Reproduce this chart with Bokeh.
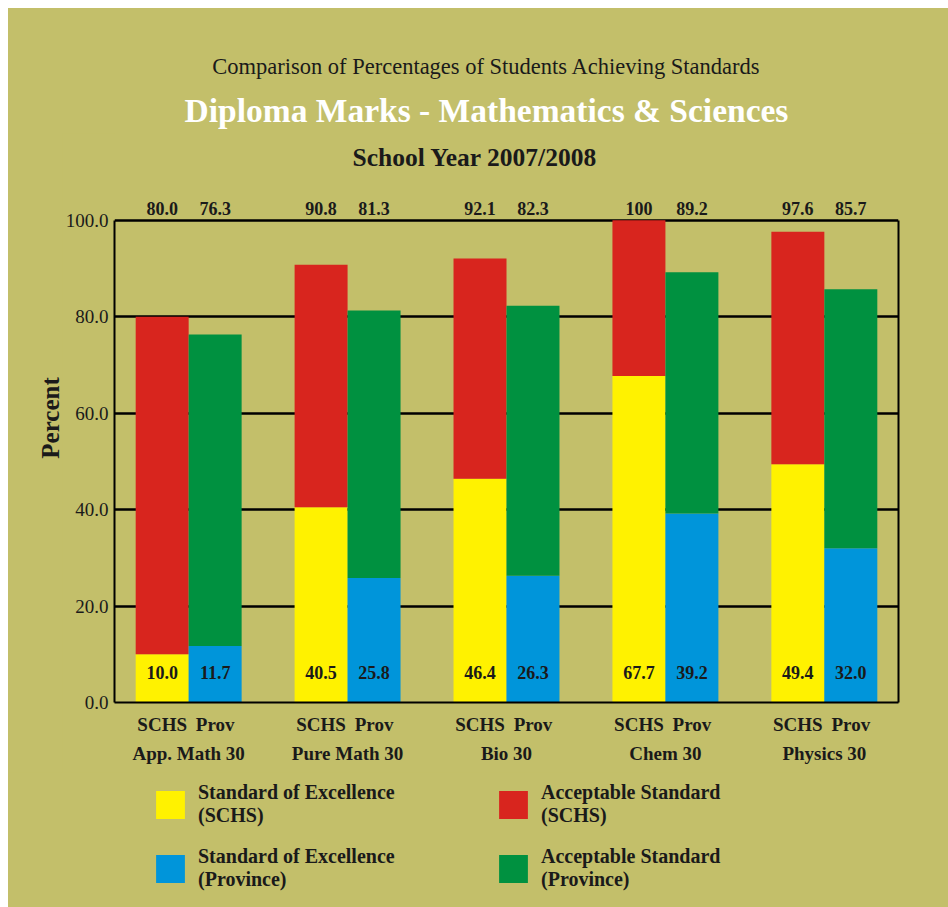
import math
from bokeh.plotting import figure
from bokeh.layouts import column, row
from bokeh.models import (FactorRange, Range1d, FixedTicker, LinearAxis, Legend, LegendItem,
                          ColumnDataSource, PrintfTickFormatter)
from bokeh.core.properties import value
from bokeh.embed import file_html
from bokeh.resources import INLINE

subjects = ["App. Math 30", "Pure Math 30", "Bio 30", "Chem 30", "Physics 30"]
series = ["SCHS", "Prov"]
schs_excellence = [10.0, 40.5, 46.4, 67.7, 49.4]
schs_acceptable = [80.0, 90.8, 92.1, 100.0, 97.6]
prov_excellence = [11.7, 25.8, 26.3, 39.2, 32.0]
prov_acceptable = [76.3, 81.3, 82.3, 89.2, 85.7]
y_ticks = [0, 20, 40, 60, 80, 100]

title_top = "Comparison of Percentages of Students Achieving Standards"
title_main = "Diploma Marks - Mathematics & Sciences"
title_sub = "School Year 2007/2008"
y_label = "Percent"
legend_labels = ["Standard of Excellence\n(SCHS)", "Standard of Excellence\n(Province)",
                 "Acceptable Standard\n(SCHS)", "Acceptable Standard\n(Province)"]

BG = "#c3bf6a"
YELLOW = "#fff200"
RED = "#d8251e"
BLUE = "#0095da"
GREEN = "#009140"
INK = "#1a1a1a"
FONT = "Liberation Serif"

Y_MAX = 118
BOTTOM = 70


def fmt(v):
    return "100" if v >= 100 else f"{v:.1f}"


def panel(width, height, **kw):
    f = figure(width=width, height=height, output_backend="svg", toolbar_location=None,
               background_fill_color=BG, border_fill_color=BG, outline_line_color=None, **kw)
    f.styles = {"background-color": BG}
    return f


# ---------- heading panel ----------
hd = panel(940, 125, x_axis_type=None, y_axis_type=None,
           x_range=Range1d(144, 940), y_range=Range1d(0, 125),
           min_border_left=144, min_border_right=0, min_border_top=0, min_border_bottom=0)
hd.grid.visible = False
hd.text(x=[478], y=[67], text=[title_top], text_font=value(FONT), text_font_size="22.5px",
        text_color=INK, text_align="center", text_baseline="middle")
hd.text(x=[478], y=[23], text=[title_main], text_font=value(FONT), text_font_size="33.5px",
        text_font_style="bold", text_color="white", text_align="center", text_baseline="middle")

# ---------- y-axis title panel ----------
yl = panel(54, 639, x_axis_type=None, y_axis_type=None,
           x_range=Range1d(0, 54), y_range=Range1d(0, Y_MAX),
           min_border_left=0, min_border_right=0, min_border_top=0, min_border_bottom=BOTTOM)
yl.grid.visible = False
yl.text(x=[42], y=[59], text=[y_label], angle=math.pi / 2, text_font=value(FONT),
        text_font_size="25px", text_font_style="bold", text_color=INK,
        text_align="center", text_baseline="middle")

# ---------- chart ----------
factors = [(s, r) for s in subjects for r in series]
schs_src = ColumnDataSource(dict(
    x=[(s, "SCHS") for s in subjects],
    exc=schs_excellence, acc=schs_acceptable,
    exc_lbl=[fmt(v) for v in schs_excellence], acc_lbl=[fmt(v) for v in schs_acceptable]))
prov_src = ColumnDataSource(dict(
    x=[(s, "Prov") for s in subjects],
    exc=prov_excellence, acc=prov_acceptable,
    exc_lbl=[fmt(v) for v in prov_excellence], acc_lbl=[fmt(v) for v in prov_acceptable]))

p = panel(886, 639,
          x_range=FactorRange(*factors, group_padding=1.0, factor_padding=0.0,
                              range_padding=0.4, range_padding_units="absolute"),
          y_range=Range1d(0, Y_MAX),
          min_border_left=51, min_border_right=50, min_border_top=0, min_border_bottom=BOTTOM)

p.vbar(x="x", bottom=0, top="exc", width=1.0, source=schs_src, fill_color=YELLOW, line_color=None)
p.vbar(x="x", bottom="exc", top="acc", width=1.0, source=schs_src, fill_color=RED, line_color=None)
p.vbar(x="x", bottom=0, top="exc", width=1.0, source=prov_src, fill_color=BLUE, line_color=None)
p.vbar(x="x", bottom="exc", top="acc", width=1.0, source=prov_src, fill_color=GREEN, line_color=None)

for src in (schs_src, prov_src):
    p.text(x="x", y=6.3, text="exc_lbl", source=src, text_font=value(FONT), text_font_size="18px",
           text_font_style="bold", text_color=INK, text_align="center", text_baseline="middle")
    p.text(x="x", y=102.5, text="acc_lbl", source=src, text_font=value(FONT), text_font_size="18px",
           text_font_style="bold", text_color=INK, text_align="center", text_baseline="middle")

p.text(x=[("Bio 30", "SCHS")], y=[113.1], text=[title_sub], text_font=value(FONT), text_font_size="25.5px",
       text_font_style="bold", text_color=INK, text_align="center", text_baseline="middle", x_offset=-5)

ticker = FixedTicker(ticks=y_ticks)
ya = p.yaxis[0]
ya.bounds = (0, 100)
ya.ticker = ticker
ya.formatter = PrintfTickFormatter(format="%.1f")
ya.axis_line_width = 2
ya.axis_line_color = "black"
ya.major_tick_line_color = None
ya.minor_tick_line_color = None
ya.major_label_standoff = 0
ya.major_label_text_font = FONT
ya.major_label_text_font_size = "19px"
ya.major_label_text_color = INK

ra = LinearAxis(bounds=(0, 100), ticker=FixedTicker(ticks=[]), major_label_text_font_size="0px",
                axis_line_width=2, axis_line_color="black", major_tick_line_color=None,
                minor_tick_line_color=None)
p.add_layout(ra, "right")

p.ygrid.ticker = ticker
p.ygrid.grid_line_color = "black"
p.ygrid.grid_line_width = 2.5
p.xgrid.grid_line_color = None

xa = p.xaxis[0]
xa.axis_line_width = 2
xa.axis_line_color = "black"
xa.major_tick_line_color = None
xa.minor_tick_line_color = None
xa.separator_line_color = None
xa.major_label_text_font = FONT
xa.major_label_text_font_size = "19px"
xa.major_label_text_font_style = "bold"
xa.major_label_text_color = INK
xa.major_label_orientation = "horizontal"
xa.group_text_font = FONT
xa.group_text_font_size = "19px"
xa.group_text_font_style = "bold"
xa.group_text_color = INK

# ---------- legend panel ----------
lg = panel(940, 135, x_axis_type=None, y_axis_type=None, x_range=Range1d(0, 1), y_range=Range1d(0, 1),
           min_border_left=144, min_border_right=0, min_border_top=9, min_border_bottom=0)
lg.grid.visible = False
swatch_src = ColumnDataSource(dict(x=[0], top=[0]))  # zero-height: only the legend swatch shows
swatches = [lg.vbar(x="x", top="top", bottom=0, width=0, source=swatch_src, fill_color=c, line_color=None)
            for c in (YELLOW, BLUE, RED, GREEN)]
legend = Legend(items=[LegendItem(label=t, renderers=[r]) for t, r in zip(legend_labels, swatches)],
                ncols=2, location="top_left", margin=0, padding=0, spacing=18,
                glyph_width=36, glyph_height=35, label_height=28, label_width=279, label_standoff=10,
                label_text_font=FONT, label_text_font_size="20px", label_text_font_style="bold",
                label_text_line_height=1.15, label_text_color=INK,
                background_fill_alpha=0, border_line_color=None)
lg.add_layout(legend)

layout = column(hd, row(yl, p, spacing=0), lg, spacing=0)
layout.margin = (8, 0, 0, 8)
open("out.html", "w").write(file_html(layout, INLINE))
